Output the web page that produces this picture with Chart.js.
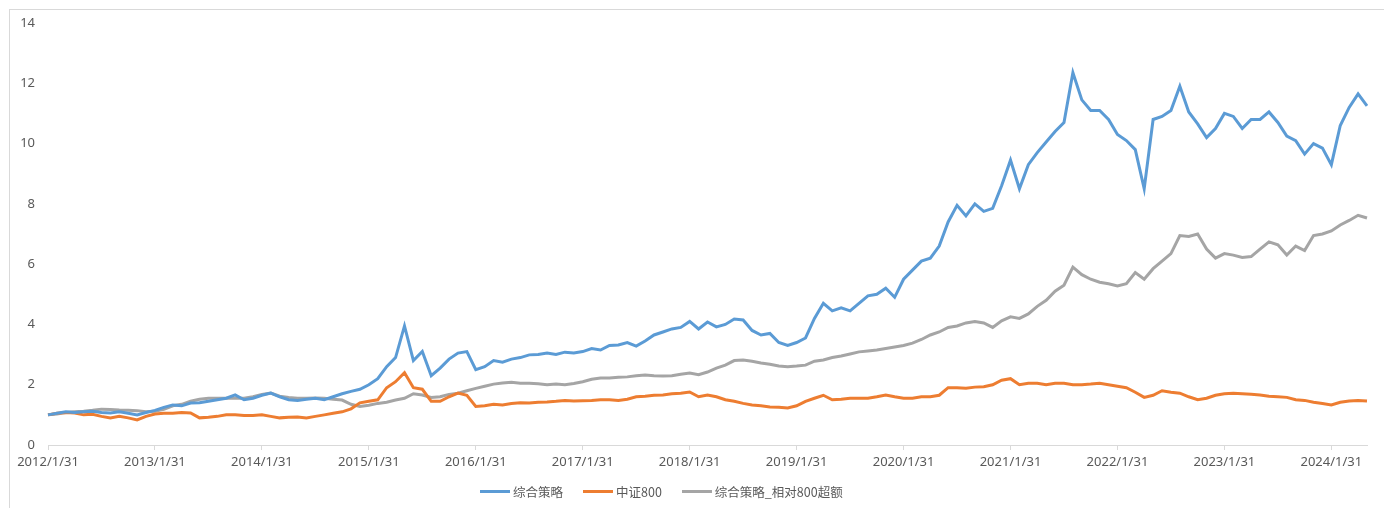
<!DOCTYPE html>
<html>
<head>
<meta charset="utf-8">
<script src="https://cdn.jsdelivr.net/npm/chart.js@4.4.1/dist/chart.umd.min.js"></script>
<style>
  html, body { margin: 0; padding: 0; background: #fff; }
  #wrap { position: relative; width: 1384px; height: 508px; overflow: hidden; }
  #frame { position: absolute; left: 9px; top: 9px; width: 1400px; height: 520px; border: 1px solid #d9d9d9; box-sizing: border-box; }
  canvas { position: absolute; left: 0; top: 0; }
  #legend { position: absolute; left: 480px; top: 482px; height: 18px; display: flex; align-items: center;
            font-family: "Noto Sans CJK SC", "Noto Sans", sans-serif; font-size: 12.5px; color: #595959; }
  .item { display: flex; align-items: center; margin-right: 20px; }
  .sw { width: 30px; height: 3px; margin-right: 3px; }
</style>
</head>
<body>
<div id="wrap">
  <div id="frame"></div>
  <canvas id="c" width="1384" height="508"></canvas>
  <div id="legend"></div>
</div>
<script>
// Category axis: month-end dates from 2012/1 to 2024/5
const startYear = 2012, startMonth = 1, monthCount = 149;
const categories = [];
for (let i = 0; i < monthCount; i++) {
  const y = startYear + Math.floor((startMonth - 1 + i) / 12);
  const m = (startMonth - 1 + i) % 12 + 1;
  const d = new Date(y, m, 0).getDate();
  categories.push(y + '/' + m + '/' + d);
}

const seriesNames = ['综合策略', '中证800', '综合策略_相对800超额'];

const strategy = [
  1.0, 1.05, 1.1, 1.08, 1.1, 1.12, 1.08, 1.06, 1.1, 1.05, 1.0, 1.08,
  1.15, 1.25, 1.33, 1.3, 1.39, 1.4, 1.45, 1.5, 1.55, 1.66, 1.5, 1.55,
  1.65, 1.72, 1.6, 1.5, 1.48, 1.52, 1.55, 1.5, 1.6, 1.7, 1.78, 1.85,
  2.0, 2.2, 2.6, 2.9, 3.95, 2.8, 3.1, 2.3, 2.55, 2.85, 3.05, 3.1,
  2.5, 2.6, 2.8, 2.75, 2.85, 2.9, 2.99, 3.0, 3.05, 3.0, 3.08, 3.05,
  3.1, 3.2, 3.15, 3.3, 3.32, 3.4, 3.28, 3.45, 3.65, 3.75, 3.85, 3.9,
  4.1, 3.85, 4.08, 3.92, 4.0, 4.18, 4.15, 3.8, 3.65, 3.7, 3.4, 3.3,
  3.4, 3.55, 4.2, 4.7, 4.45, 4.55, 4.45, 4.7, 4.95, 5.0, 5.2, 4.9,
  5.5, 5.8, 6.1, 6.2, 6.6, 7.4, 7.95, 7.6, 8.0, 7.75, 7.85, 8.6,
  9.45, 8.5, 9.3, 9.7, 10.05, 10.4, 10.7, 12.35, 11.45, 11.1, 11.1, 10.8,
  10.3, 10.1, 9.8, 8.5, 10.8, 10.9, 11.1, 11.9, 11.05, 10.65, 10.2, 10.5,
  11.0, 10.9, 10.5, 10.8, 10.8, 11.05, 10.7, 10.25, 10.1, 9.65, 10.0, 9.85,
  9.3, 10.6, 11.2, 11.65, 11.25
];

const csi800 = [
  1.0, 1.05, 1.08, 1.06, 1.0, 1.02, 0.95, 0.9, 0.95, 0.9, 0.83, 0.95,
  1.03, 1.05, 1.05, 1.08, 1.06, 0.9, 0.92, 0.95, 1.0, 1.0, 0.98, 0.98,
  1.0, 0.95, 0.9, 0.92, 0.93, 0.9, 0.95, 1.0, 1.05, 1.1, 1.2, 1.4,
  1.45, 1.5, 1.9, 2.1, 2.4, 1.9, 1.85, 1.45, 1.45, 1.6, 1.72, 1.65,
  1.28, 1.3, 1.35, 1.33, 1.38, 1.4, 1.39, 1.42, 1.43, 1.45, 1.48, 1.46,
  1.47, 1.48, 1.5, 1.5, 1.48, 1.52, 1.6, 1.62, 1.65, 1.66, 1.7, 1.72,
  1.76, 1.6, 1.66, 1.6, 1.5, 1.45, 1.38, 1.33, 1.3, 1.26, 1.25, 1.23,
  1.3, 1.45, 1.55, 1.65, 1.5, 1.52, 1.55, 1.55, 1.55, 1.6, 1.66, 1.6,
  1.55, 1.55, 1.6, 1.6, 1.65, 1.9, 1.9, 1.88, 1.92, 1.93, 2.0, 2.15,
  2.2, 2.0, 2.05, 2.05, 2.0, 2.05, 2.05, 2.0, 2.0, 2.02, 2.05, 2.0,
  1.95, 1.9, 1.75, 1.58, 1.65, 1.8, 1.75, 1.72, 1.6, 1.5, 1.55, 1.65,
  1.7, 1.72, 1.7, 1.68, 1.66, 1.62, 1.6, 1.58, 1.5, 1.48, 1.42, 1.38,
  1.33, 1.42, 1.46, 1.48, 1.46
];

const excess = [
  1.0, 1.03, 1.08, 1.1, 1.12, 1.15, 1.19, 1.18, 1.16, 1.15, 1.14, 1.1,
  1.12, 1.18, 1.3, 1.35, 1.45, 1.52, 1.55, 1.55, 1.55, 1.55, 1.55, 1.6,
  1.68, 1.72, 1.62, 1.58, 1.55, 1.55, 1.56, 1.55, 1.52, 1.49, 1.35, 1.28,
  1.32, 1.38, 1.42, 1.49, 1.55, 1.7, 1.66, 1.58, 1.6, 1.68, 1.72, 1.8,
  1.88, 1.95, 2.02, 2.06, 2.08, 2.05, 2.05, 2.03, 2.0, 2.02, 2.0, 2.04,
  2.1, 2.18, 2.22, 2.22, 2.25, 2.26, 2.3, 2.32, 2.3, 2.29, 2.3, 2.35,
  2.39, 2.33, 2.42, 2.55, 2.65, 2.8, 2.82, 2.78, 2.72, 2.68, 2.62, 2.6,
  2.62, 2.65, 2.78, 2.82, 2.9, 2.95, 3.02, 3.09, 3.12, 3.15, 3.2, 3.25,
  3.3, 3.38, 3.5, 3.65, 3.75, 3.9, 3.95, 4.05, 4.1, 4.05, 3.9, 4.12,
  4.25, 4.2, 4.35, 4.6, 4.8, 5.1, 5.3, 5.9, 5.65, 5.5, 5.4, 5.35,
  5.28, 5.35, 5.72, 5.5, 5.85, 6.1, 6.35, 6.95, 6.92, 7.0, 6.5, 6.2,
  6.35, 6.3, 6.22, 6.25, 6.5, 6.74, 6.64, 6.3, 6.6, 6.45, 6.95, 7.0,
  7.1, 7.3, 7.45, 7.62, 7.53
];

const yTicks = { min: 0, max: 14, step: 2 };
const colors = ['#5b9bd5', '#ed7d31', '#a5a5a5'];
const seriesValues = [strategy, csi800, excess];

const labelFont = { family: '"Noto Sans", "Open Sans", sans-serif', size: 13 };

new Chart(document.getElementById('c'), {
  type: 'line',
  data: {
    labels: categories,
    datasets: seriesValues.map((vals, i) => ({
      label: seriesNames[i],
      data: vals,
      borderColor: colors[i],
      backgroundColor: colors[i],
      borderWidth: 3,
      pointRadius: 0,
      tension: 0,
      fill: false
    }))
  },
  options: {
    responsive: false,
    animation: false,
    events: [],
    layout: { padding: { left: 0, right: 17, top: 23, bottom: 0 } },
    plugins: { legend: { display: false }, tooltip: { enabled: false } },
    scales: {
      x: {
        type: 'category',
        offset: false,
        grid: { display: true, drawOnChartArea: false, drawTicks: true, tickLength: 5, color: '#d9d9d9' },
        border: { display: true, color: '#d9d9d9', width: 1 },
        ticks: {
          autoSkip: false, maxRotation: 0, minRotation: 0, padding: 4,
          color: '#595959', font: labelFont,
          callback: function (v, i) {
            const lab = categories[i];
            return lab.split('/')[1] === '1' ? lab : null;
          }
        },
        afterFit: function (s) { s.height = 63; }
      },
      y: {
        min: yTicks.min, max: yTicks.max,
        grid: { display: false, drawTicks: false },
        border: { display: false },
        ticks: { stepSize: yTicks.step, padding: 13, color: '#595959', font: labelFont },
        afterFit: function (s) { s.width = 48; }
      }
    }
  }
});

const lg = document.getElementById('legend');
seriesNames.forEach((n, i) => {
  const it = document.createElement('div'); it.className = 'item';
  const sw = document.createElement('div'); sw.className = 'sw'; sw.style.background = colors[i];
  const tx = document.createElement('span'); tx.textContent = n;
  it.appendChild(sw); it.appendChild(tx); lg.appendChild(it);
});
</script>
</body>
</html>
